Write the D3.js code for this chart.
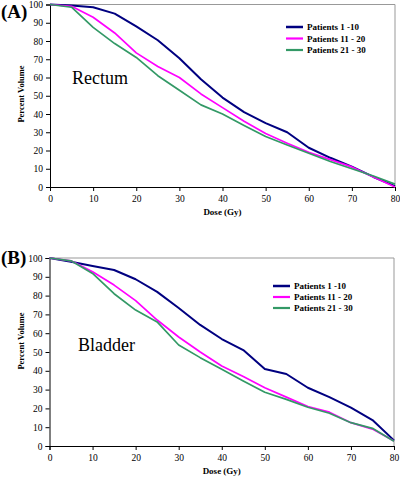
<!DOCTYPE html>
<html><head><meta charset="utf-8">
<script src="https://cdn.jsdelivr.net/npm/d3@7"></script>
<style>body{margin:0;background:#fff}svg{display:block}
svg text{font-family:"Liberation Serif","Times New Roman","DejaVu Serif",serif}</style>
</head><body>
<svg id="c" width="400" height="477"></svg>
<script>
const doses = [0,5,10,15,20,25,30,35,40,45,50,55,60,65,70,75,80];
const seriesNames = ["Patients 1 -10", "Patients 11 - 20", "Patients 21 - 30"];
const yTicks = [0,10,20,30,40,50,60,70,80,90,100];
const xTicks = [0,10,20,30,40,50,60,70,80];

const rectum1 = [100,99.5,98.5,95,88,80.4,70.5,59,49,41,35,30,21.5,16,11.2,5.5,0.5];
const rectum2 = [100,99,93,84.4,73.5,66,60,51,43.5,36,29.3,24,19,15,11,5.5,0];
const rectum3 = [100,98.5,87.5,78.6,71,61,53,45,40,33.7,27.7,23,18.5,14,10,6,1.6];

const bladder1 = [100,98,95.7,93.6,88.7,82,73.4,64.4,56.9,51,41,38.3,31,26,20.4,13.8,3];
const bladder2 = [100,98.5,92.7,85.6,77.3,67,58,50,42.6,37,31,26,21,18,12.4,9,2.7];
const bladder3 = [100,98.5,91.8,81,72.3,66,53.7,47,40.8,34.6,28.6,24.8,20.6,17.4,12.4,9.4,2.5];

const colors = ["#000080", "#ff00ff", "#339966"];
const widths = [2, 1.7, 1.7];

const svg = d3.select("#c");

function panel(cfg){
  const x = d3.scaleLinear().domain([0,80]).range([cfg.left, cfg.right]);
  const y = d3.scaleLinear().domain([0,100]).range([cfg.bottom, cfg.top]);
  const g = svg.append("g");
  g.append("path").attr("d", `M${cfg.left},${cfg.top}H${cfg.right}V${cfg.bottom}`)
    .attr("fill","none").attr("stroke","#999").attr("stroke-width",1);
  const xa = g.append("g").attr("transform",`translate(0,${cfg.bottom})`)
    .call(d3.axisBottom(x).tickValues(xTicks).tickSize(4).tickPadding(4));
  const ya = g.append("g").attr("transform",`translate(${cfg.left},0)`)
    .call(d3.axisLeft(y).tickValues(yTicks).tickSize(4).tickPadding(3));
  [xa,ya].forEach(a=>{
    a.attr("font-family",null);
    a.select(".domain").attr("stroke","#000");
    a.selectAll(".tick line").attr("stroke","#000");
    a.selectAll("text").attr("font-size",9.5).attr("fill","#000");
  });
  const line = d3.line().x((d,i)=>x(doses[i])).y(d=>y(d));
  cfg.data.forEach((s,i)=>{
    g.append("path").datum(s).attr("d",line).attr("fill","none")
      .attr("stroke",colors[i]).attr("stroke-width",widths[i]).attr("stroke-linejoin","round");
  });
  g.append("text").attr("x",(cfg.left+cfg.right)/2).attr("y",cfg.bottom+28)
    .attr("text-anchor","middle").attr("font-weight","bold")
    .attr("font-size",9).text("Dose (Gy)");
  g.append("text").attr("transform",`translate(${cfg.ytx},${cfg.yty}) rotate(-90)`)
    .attr("text-anchor","middle").attr("font-weight","bold")
    .attr("font-size",8.5).text("Percent Volume");
  g.append("text").attr("x",1).attr("y",cfg.labY)
    .attr("font-weight","bold").attr("font-size",19).text(cfg.label);
  g.append("text").attr("x",cfg.organX).attr("y",cfg.organY)
    .attr("font-size",18).text(cfg.organ);
  seriesNames.forEach((n,i)=>{
    const yy = cfg.legY + i*cfg.legDy;
    g.append("line").attr("x1",cfg.legX).attr("x2",cfg.legX+17).attr("y1",yy).attr("y2",yy)
      .attr("stroke",colors[i]).attr("stroke-width",widths[i]+0.5);
    g.append("text").attr("x",cfg.legX+21).attr("y",yy).attr("dy","0.35em")
      .attr("font-weight","bold").attr("font-size",9).text(n);
  });
}

panel({left:50,right:395,top:4.5,bottom:187,data:[rectum1,rectum2,rectum3],
  label:"(A)",labY:18,organ:"Rectum",organX:72,organY:84,ytx:24,yty:94,
  legX:286,legY:27,legDy:11.5});
panel({left:49.5,right:394,top:258,bottom:446,data:[bladder1,bladder2,bladder3],
  label:"(B)",labY:264,organ:"Bladder",organX:78,organY:351,ytx:24,yty:341,
  legX:273,legY:286,legDy:11});
</script>
</body></html>
